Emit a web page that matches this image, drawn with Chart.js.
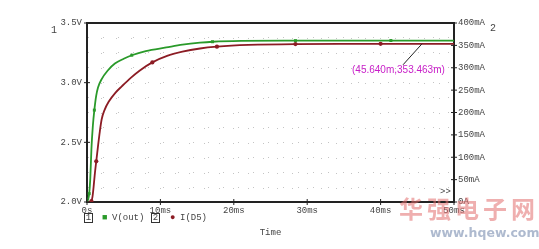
<!DOCTYPE html>
<html>
<head>
<meta charset="utf-8">
<script src="https://cdn.jsdelivr.net/npm/chart.js@4.4.1/dist/chart.umd.min.js"></script>
<style>
  body { margin: 0; background: #fff; }
  #wrap { position: relative; width: 539px; height: 249px; overflow: hidden; }
  .lbl { position: absolute; font-family: "Liberation Mono", monospace; font-size: 9px; color: #444; white-space: nowrap; }
  .box { border: 1px solid #333; width: 7px; height: 8px; line-height: 8px; text-align: center; }
  #cursor { position: absolute; left: 352px; top: 64px; font-family: "Liberation Sans", Arial, sans-serif; font-size: 10px; color: #c81ec8; }
  #wm1 { position: absolute; left: 399px; top: 190px; font-family: "Noto Sans CJK SC", sans-serif; font-weight: 700; font-size: 24px; color: rgba(226, 110, 110, 0.55); letter-spacing: 4px; }
  #wm2 { position: absolute; left: 430px; top: 225px; font-family: "DejaVu Sans", sans-serif; font-weight: 700; font-size: 12.5px; color: rgba(120, 140, 175, 0.6); }
</style>
</head>
<body>
<div id="wrap">
  <canvas id="chart" width="539" height="249"></canvas>
  <div class="lbl" style="left:51px;top:25px;font-size:10px;">1</div>
  <div class="lbl" style="left:490px;top:23px;font-size:10px;">2</div>
  <div class="lbl box" style="left:84px;top:213px;">1</div>
  <div class="lbl" style="left:102px;top:213px;color:#2a9a2a;">&#9632;</div>
  <div class="lbl" style="left:112px;top:213px;">V(out)</div>
  <div class="lbl box" style="left:151px;top:213px;">2</div>
  <div class="lbl" style="left:170px;top:213px;color:#8c1c24;">&#9679;</div>
  <div class="lbl" style="left:180px;top:213px;">I(D5)</div>
  <div class="lbl" style="left:440px;top:187px;">&gt;&gt;</div>
  <div id="cursor">(45.640m,353.463m)</div>
  <div id="wm1">华强电子网</div>
  <div id="wm2">www.hqew.com</div>
</div>
<script>
// V(out) trace, time in ms, volts
const vTime  = [0, 0.15, 0.3, 0.45, 0.6, 0.8, 1.0, 1.25, 1.5, 2.0, 2.8, 3.8, 5.0, 6.1, 8.0, 10.8, 13.0, 15.4, 17.1, 21, 28.4, 35, 41.4, 50];
const vVolts = [2.0, 2.02, 2.07, 2.2, 2.44, 2.64, 2.77, 2.89, 2.96, 3.03, 3.1, 3.16, 3.2, 3.23, 3.265, 3.295, 3.318, 3.335, 3.343, 3.35, 3.352, 3.353, 3.353, 3.353];
const vMarkers = [0.3, 1.0, 6.1, 17.1, 28.4, 41.4];

// I(D5) trace, time in ms, mA
const iTime = [0, 0.3, 0.6, 0.75, 0.9, 1.05, 1.26, 1.5, 1.75, 2.0, 2.4, 2.95, 3.86, 4.77, 6.0, 7.2, 8.9, 11, 13, 15.4, 17.7, 22, 28.4, 35, 40, 45.64, 50];
const iAmps = [0, 0, 2, 12, 34, 60, 91, 125, 158, 185, 206, 224, 244, 259, 278, 294, 312, 327, 336, 343, 347, 351, 353, 353.3, 353.4, 353.463, 353.5];
const iMarkers = [0.6, 1.26, 8.9, 17.7, 28.4, 40];

const cursorT = 45.64;
const cursorI = 353.463;

const GREEN = '#2a9a2a';
const RED = '#8c1c24';
const MONO = { family: 'Liberation Mono, monospace', size: 9 };

const toPts = (xs, ys) => xs.map((x, i) => ({ x: x, y: ys[i] }));
const markerRadius = (list) => (ctx) => (list.includes(ctx.raw && ctx.raw.x) ? 2.1 : 0);

const frame = {
    id: 'frame',
    afterDraw(chart) {
        const { ctx, chartArea: a, scales } = chart;
        ctx.save();
        ctx.strokeStyle = '#222';
        ctx.lineWidth = 2;
        ctx.beginPath();
        ctx.moveTo(a.left, a.top);
        ctx.lineTo(a.right, a.top);
        ctx.stroke();
        ctx.lineWidth = 1;
        // small tick marks on the axes
        scales.x.ticks.forEach((t) => {
            if (t.value % 10 !== 0) return;
            const px = scales.x.getPixelForValue(t.value);
            ctx.beginPath();
            ctx.moveTo(px, a.bottom - 3);
            ctx.lineTo(px, a.bottom + 3);
            ctx.stroke();
        });
        scales.y.ticks.forEach((t) => {
            if (Math.abs(t.value * 2 - Math.round(t.value * 2)) > 1e-6) return;
            const py = scales.y.getPixelForValue(t.value);
            ctx.beginPath();
            ctx.moveTo(a.left - 3, py);
            ctx.lineTo(a.left + 3, py);
            ctx.stroke();
        });
        scales.y2.ticks.forEach((t) => {
            const py = scales.y2.getPixelForValue(t.value);
            ctx.beginPath();
            ctx.moveTo(a.right - 3, py);
            ctx.lineTo(a.right + 3, py);
            ctx.stroke();
        });
        // cursor leader line
        const cx = scales.x.getPixelForValue(cursorT);
        const cy = scales.y2.getPixelForValue(cursorI);
        ctx.beginPath();
        ctx.moveTo(cx, cy);
        ctx.lineTo(cx - 19, cy + 21);
        ctx.stroke();
        ctx.restore();
    }
};

new Chart(document.getElementById('chart'), {
    type: 'line',
    data: {
        datasets: [
            {
                label: 'V(out)',
                data: toPts(vTime, vVolts),
                yAxisID: 'y',
                borderColor: GREEN,
                backgroundColor: GREEN,
                borderWidth: 1.8,
                pointStyle: 'rect',
                pointRadius: markerRadius(vMarkers),
                pointBorderWidth: 0,
                cubicInterpolationMode: 'monotone'
            },
            {
                label: 'I(D5)',
                data: toPts(iTime, iAmps),
                yAxisID: 'y2',
                borderColor: RED,
                backgroundColor: RED,
                borderWidth: 1.8,
                pointStyle: 'circle',
                pointRadius: markerRadius(iMarkers),
                pointBorderWidth: 0,
                cubicInterpolationMode: 'monotone'
            }
        ]
    },
    options: {
        responsive: false,
        animation: false,
        layout: { padding: { top: 23 } },
        plugins: { legend: { display: false }, tooltip: { enabled: false } },
        scales: {
            x: {
                type: 'linear',
                min: 0,
                max: 50,
                afterFit: (s) => { s.height = 47; },
                ticks: {
                    stepSize: 2,
                    autoSkip: false,
                    maxRotation: 0,
                    padding: 3,
                    color: '#444',
                    font: MONO,
                    callback: (v) => (v % 10 === 0 ? (v === 0 ? '0s' : v + 'ms') : '')
                },
                grid: { color: '#c4c4c4', lineWidth: 1, drawTicks: false },
                border: { color: '#222', width: 2, dash: [1, 14] },
                title: { display: true, text: 'Time', color: '#444', font: MONO, padding: { top: 0, bottom: 11 } }
            },
            y: {
                position: 'left',
                min: 2,
                max: 3.5,
                afterFit: (s) => { s.width = 87; },
                ticks: {
                    stepSize: 0.125,
                    autoSkip: false,
                    padding: 5,
                    color: '#444',
                    font: MONO,
                    callback: (v) => (Math.abs(v * 2 - Math.round(v * 2)) < 1e-6 ? v.toFixed(1) + 'V' : '')
                },
                grid: { color: '#c4c4c4', lineWidth: 1, drawTicks: false },
                border: { color: '#222', width: 2, dash: [1, 14] }
            },
            y2: {
                position: 'right',
                min: 0,
                max: 400,
                afterFit: (s) => { s.width = 85; },
                ticks: {
                    stepSize: 50,
                    autoSkip: false,
                    padding: 4,
                    color: '#444',
                    font: MONO,
                    callback: (v) => (v === 0 ? '0A' : v + 'mA')
                },
                grid: { display: false, drawTicks: false },
                border: { color: '#222', width: 2 }
            }
        }
    },
    plugins: [frame]
});
</script>
</body>
</html>
